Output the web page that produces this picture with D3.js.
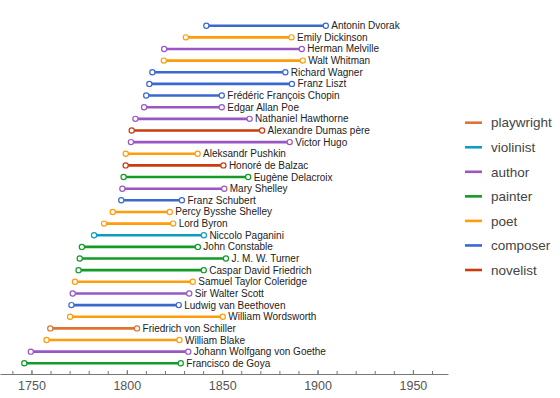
<!DOCTYPE html>
<html>
<head>
<meta charset="utf-8">
<script src="https://cdn.jsdelivr.net/npm/d3@7"></script>
<style>
  body { margin: 0; background: #fff; }
  svg { display: block; font-family: "Liberation Sans", Arial, sans-serif; }
</style>
</head>
<body>
<script>
// people, top row first
var names = ["Antonin Dvorak", "Emily Dickinson", "Herman Melville", "Walt Whitman", "Richard Wagner",
  "Franz Liszt", "Frédéric François Chopin", "Edgar Allan Poe", "Nathaniel Hawthorne", "Alexandre Dumas père",
  "Victor Hugo", "Aleksandr Pushkin", "Honoré de Balzac", "Eugène Delacroix", "Mary Shelley",
  "Franz Schubert", "Percy Bysshe Shelley", "Lord Byron", "Niccolo Paganini", "John Constable",
  "J. M. W. Turner", "Caspar David Friedrich", "Samuel Taylor Coleridge", "Sir Walter Scott", "Ludwig van Beethoven",
  "William Wordsworth", "Friedrich von Schiller", "William Blake", "Johann Wolfgang von Goethe", "Francisco de Goya"];

var born = [1841.69, 1830.94, 1819.58, 1819.41, 1813.39,
  1811.81, 1810.16, 1809.05, 1804.5, 1802.56,
  1802.15, 1799.43, 1799.38, 1798.32, 1797.66,
  1797.08, 1792.59, 1788.06, 1782.82, 1776.44,
  1775.31, 1774.68, 1772.8, 1771.62, 1770.96,
  1770.26, 1759.86, 1757.91, 1749.66, 1746.24];

var died = [1904.33, 1886.37, 1891.74, 1892.23, 1883.12,
  1886.58, 1849.79, 1849.77, 1864.38, 1870.93,
  1885.39, 1837.11, 1850.63, 1863.62, 1851.08,
  1828.88, 1822.52, 1824.3, 1840.4, 1837.25,
  1851.97, 1840.35, 1834.56, 1832.72, 1827.23,
  1850.31, 1805.35, 1827.61, 1832.22, 1828.29];

var jobs = ["composer", "poet", "author", "poet", "composer",
  "composer", "composer", "author", "author", "novelist",
  "author", "poet", "novelist", "painter", "author",
  "composer", "poet", "poet", "violinist", "painter",
  "painter", "painter", "poet", "author", "composer",
  "poet", "playwright", "poet", "author", "painter"];

var legendJobs = ["playwright", "violinist", "author", "painter", "poet", "composer", "novelist"];
var jobColors = ["#de7431", "#0e9cbf", "#9a57c4", "#139a27", "#ff9c0c", "#3a68d0", "#cc3a0e"];

var majorTicks = [1750, 1800, 1850, 1900, 1950];

var width = 560, height = 398;

var svg = d3.select("body").append("svg")
  .attr("width", width)
  .attr("height", height);

var x = d3.scaleLinear().domain([1733.5, 1968.4]).range([0, 448]);
var y = d3.scalePoint().domain(names).range([25.7, 363.3]);
var color = d3.scaleOrdinal().domain(legendJobs).range(jobColors);

var rows = names.map(function (n, i) {
  return { name: n, from: born[i], to: died[i], job: jobs[i] };
});

// axis
var axisY = 374;
svg.append("g")
  .attr("transform", "translate(0," + axisY + ")")
  .call(d3.axisBottom(x).tickValues(d3.range(1740, 1961, 10)).tickFormat("").tickSize(-3).tickSizeOuter(0))
  .call(function (g) {
    g.select(".domain").attr("stroke", "#777");
    g.selectAll(".tick line").attr("stroke", "#777");
  });

svg.append("g")
  .attr("transform", "translate(0," + axisY + ")")
  .call(d3.axisBottom(x).tickValues(majorTicks).tickFormat(d3.format("d")).tickSize(-4).tickPadding(7).tickSizeOuter(0))
  .call(function (g) {
    g.select(".domain").remove();
    g.selectAll(".tick line").attr("stroke", "#777");
    g.selectAll(".tick text").attr("fill", "#555").style("font-size", "12.5px");
  });

// lifespans
var row = svg.selectAll(".row")
  .data(rows)
  .enter().append("g")
  .attr("class", "row");

row.append("line")
  .attr("x1", function (d) { return x(d.from); })
  .attr("x2", function (d) { return x(d.to); })
  .attr("y1", function (d) { return y(d.name); })
  .attr("y2", function (d) { return y(d.name); })
  .attr("stroke", function (d) { return color(d.job); })
  .attr("stroke-width", 2.6);

row.selectAll("circle")
  .data(function (d) { return [{ v: d.from, d: d }, { v: d.to, d: d }]; })
  .enter().append("circle")
  .attr("cx", function (p) { return x(p.v); })
  .attr("cy", function (p) { return y(p.d.name); })
  .attr("r", 2.6)
  .attr("fill", "#fff")
  .attr("stroke", function (p) { return color(p.d.job); })
  .attr("stroke-width", 1.2);

row.append("text")
  .attr("x", function (d) { return x(d.to) + 5.5; })
  .attr("y", function (d) { return y(d.name); })
  .attr("dy", "0.35em")
  .attr("fill", "#222")
  .style("font-size", "10px")
  .text(function (d) { return d.name; });

// legend
var legend = svg.selectAll(".legend")
  .data(legendJobs)
  .enter().append("g")
  .attr("class", "legend")
  .attr("transform", function (d, i) { return "translate(465," + (122.7 + i * 24.55) + ")"; });

legend.append("line")
  .attr("x1", 0).attr("x2", 17)
  .attr("stroke", function (d) { return color(d); })
  .attr("stroke-width", 2.6);

legend.append("text")
  .attr("x", 26)
  .attr("dy", "0.35em")
  .attr("fill", "#444")
  .style("font-size", "13.5px")
  .text(function (d) { return d; });
</script>
</body>
</html>
